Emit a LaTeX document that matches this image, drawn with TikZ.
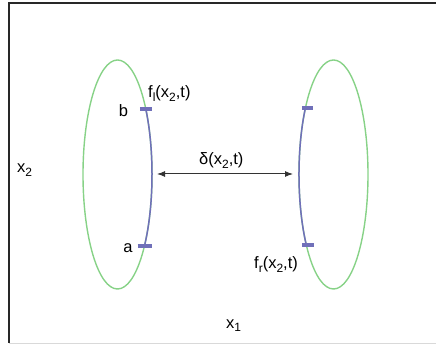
\documentclass[tikz,border=0pt]{standalone}
\usepackage{fontspec}
\setmainfont{Liberation Sans}
\usetikzlibrary{arrows.meta,shapes.geometric}
\definecolor{ellgreen}{RGB}{135,210,135}
\definecolor{arcblue}{RGB}{112,112,185}
\definecolor{framegray}{RGB}{40,40,40}
\newcommand{\sbx}[1]{\raisebox{-0.45ex}{\fontsize{12pt}{14pt}\selectfont #1}}
\begin{document}
\begin{tikzpicture}[x=1pt,y=1pt,
  lbl/.style={inner sep=0pt,font=\fontsize{16.5pt}{19pt}\selectfont,text=black},
  ell/.style={draw=ellgreen,line width=1.4pt,ellipse,minimum width=69pt,minimum height=229pt,inner sep=0pt},
  barc/.style={draw=arcblue,line width=1.5pt},
  tick/.style={draw=arcblue,line width=3.4pt},
  dist/.style={draw=black!80,line width=1pt,{Latex[length=8pt,width=6pt]}-{Latex[length=8pt,width=6pt]},shorten <=5pt,shorten >=6pt}]
\useasboundingbox (0,0) rectangle (436,-347);
% frame
\draw[framegray,line width=1.4pt] (436,-3) -- (9,-3) -- (9,-343);
\draw[black!15,line width=1pt] (9,-343) -- (436,-343);
% ellipses
\node[ell] (L) at (117.5,-174.5) {};
\node[ell] (R) at (333.5,-174.5) {};
% blue arcs
\coordinate (bL) at (145.8,-109);
\coordinate (aL) at (144.5,-246);
\coordinate (tR) at (305.4,-108);
\coordinate (uR) at (306,-245);
\coordinate (mL) at (152,-174);
\coordinate (mR) at (299,-174);
\draw[barc] (bL) arc[start angle=34.9,end angle=-38.6,x radius=34.5pt,y radius=114.5pt];
\draw[barc] (tR) arc[start angle=144.5,end angle=218,x radius=34.5pt,y radius=114.5pt];
% ticks
\draw[tick] ([xshift=-6pt]bL) -- ([xshift=6pt]bL);
\draw[tick] ([xshift=-7pt]aL) -- ([xshift=7pt]aL);
\draw[tick] ([xshift=-3.5pt]tR) -- ([xshift=8pt]tR);
\draw[tick] ([xshift=-4pt]uR) -- ([xshift=7.5pt]uR);
% distance arrow
\draw[dist] (mL) -- (mR);
% labels
\node[lbl,anchor=base west] (fl) at (148,-98) {f\sbx{l}(x\sbx{2},t)};
\node[lbl,anchor=base] (b) at (123.5,-117) {b};
\node[lbl,anchor=base] (a) at (128,-253) {a};
\node[lbl,anchor=base west] (d) at (199,-165) {δ(x\sbx{2},t)};
\node[lbl,anchor=base west] (fr) at (254,-269) {f\sbx{r}(x\sbx{2},t)};
\node[lbl,anchor=base west] (x2) at (17,-173) {x\sbx{2}};
\node[lbl,anchor=base west] (x1) at (226,-328) {x\sbx{1}};
\end{tikzpicture}
\end{document}
